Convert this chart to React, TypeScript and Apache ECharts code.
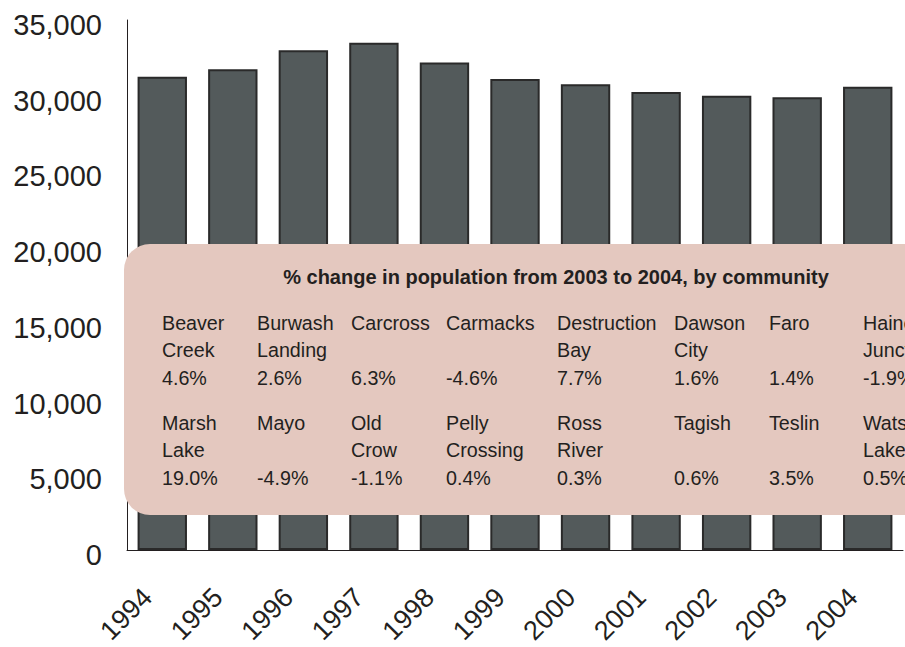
import React, { useEffect, useRef } from "react";
import * as echarts from "echarts";

const years = ["1994", "1995", "1996", "1997", "1998", "1999", "2000", "2001", "2002", "2003", "2004"];
const population = [31250, 31750, 33000, 33500, 32200, 31100, 30750, 30250, 30000, 29900, 30600];

const boxTitle = "% change in population from 2003 to 2004, by community";
const communities = [
  "Beaver Creek", "Burwash Landing", "Carcross", "Carmacks", "Destruction Bay", "Dawson City", "Faro", "Haines Junction",
  "Marsh Lake", "Mayo", "Old Crow", "Pelly Crossing", "Ross River", "Tagish", "Teslin", "Watson Lake",
];
const changes = [
  "4.6%", "2.6%", "6.3%", "-4.6%", "7.7%", "1.6%", "1.4%", "-1.9%",
  "19.0%", "-4.9%", "-1.1%", "0.4%", "0.3%", "0.6%", "3.5%", "0.5%",
];

// layout of the inset table
const colX = [162, 257, 351, 446, 557, 674, 769, 863];
const rowY = [309, 409];

const FONT = "'Liberation Sans', Arial, Helvetica, sans-serif";
const TEXT = "#231f20";

function fmt(v: number) {
  return String(v).replace(/\B(?=(\d{3})+(?!\d))/g, ",");
}

export default function App() {
  const ref = useRef<HTMLDivElement>(null);
  useEffect(() => {
    if (!ref.current) return;
    const chart = echarts.init(ref.current, undefined, { renderer: "svg" });
    const cells = communities.map((name, i) => ({
      type: "text",
      z: 101,
      x: colX[i % 8],
      y: rowY[Math.floor(i / 8)],
      style: {
        text: (name.includes(" ") ? name.replace(" ", "\n") : name + "\n") + "\n" + changes[i],
        font: `19.7px ${FONT}`,
        fill: TEXT,
        lineHeight: 27.5,
        textAlign: "left",
        textVerticalAlign: "top",
      },
    }));
    chart.setOption({
      animation: false,
      textStyle: { fontFamily: FONT },
      grid: { left: 127, top: 20, right: 2, bottom: 93, containLabel: false },
      xAxis: {
        type: "category",
        data: years,
        axisLine: { show: true, lineStyle: { color: TEXT, width: 1 } },
        axisTick: { show: false },
        axisLabel: {
          rotate: 45,
          color: TEXT,
          fontFamily: FONT,
          margin: 28,
          interval: 0,
          formatter: (v: string) => `{v|${v}}{g|}`,
          rich: {
            v: { fontSize: 27, color: TEXT, fontFamily: FONT },
            g: { width: 21 },
          },
        },
      },
      yAxis: {
        type: "value",
        min: 0,
        max: 35000,
        interval: 5000,
        splitLine: { show: false },
        axisTick: { show: false },
        axisLine: { show: true, lineStyle: { color: TEXT, width: 1 } },
        axisLabel: {
          fontSize: 29,
          color: TEXT,
          fontFamily: FONT,
          margin: 25,
          verticalAlign: "top",
          lineHeight: 10,
          formatter: (v: number) => fmt(v),
        },
      },
      series: [
        {
          type: "bar",
          data: population,
          barCategoryGap: "30%",
          itemStyle: { color: "#535a5b", borderColor: "#2a2a2a", borderWidth: 2 },
        },
      ],
      graphic: [
        {
          type: "group",
          z: 100,
          children: [
            {
              type: "rect",
              z: 100,
              shape: { x: 124, y: 244, width: 820, height: 271, r: 26 },
              style: { fill: "#e4c8bf" },
            },
            {
              type: "text",
              z: 101,
              x: 556,
              y: 277,
              style: {
                text: boxTitle,
                font: `bold 20px ${FONT}`,
                fill: TEXT,
                textAlign: "center",
                textVerticalAlign: "middle",
              },
            },
            ...cells,
          ],
        },
      ],
    });
    return () => chart.dispose();
  }, []);
  return (
    <div
      ref={ref}
      style={{ position: "fixed", left: 0, top: 0, width: 905, height: 647, background: "#fff" }}
    />
  );
}
